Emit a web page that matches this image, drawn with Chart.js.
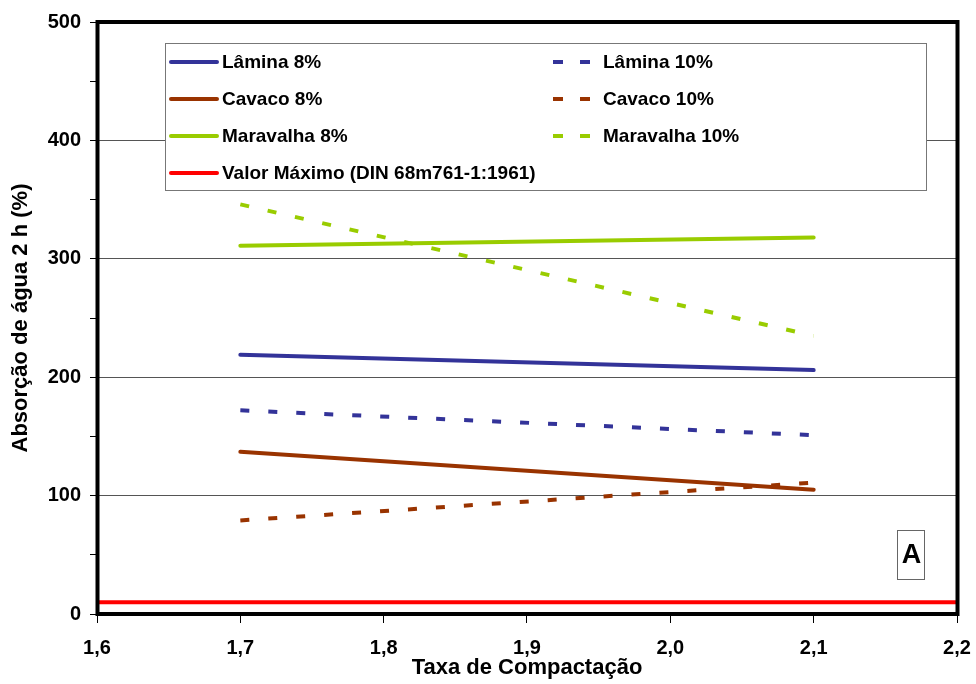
<!DOCTYPE html>
<html>
<head>
<meta charset="utf-8">
<script src="https://cdn.jsdelivr.net/npm/chart.js@4.4.1/dist/chart.umd.min.js"></script>
<style>
  html, body { margin: 0; padding: 0; background: #fff; }
  #wrap { width: 976px; height: 684px; }
</style>
</head>
<body>
<div id="wrap"><canvas id="grafico" width="976" height="684"></canvas></div>
<script>
// valores
const taxa = [1.7, 2.1];
const lamina8 = [219, 206];
const lamina10 = [172, 151];
const cavaco8 = [137, 105];
const cavaco10 = [79, 111];
const maravalha8 = [311, 318];
const maravalha10 = [346, 235];
const limiteX = [1.6, 2.2];
const valorMaximo = [10, 10];
const yTicks = [0, 100, 200, 300, 400, 500];

const FONTE = "'Liberation Sans', Arial, sans-serif";

function pts(xs, ys) {
  return xs.map((x, i) => ({ x: x, y: ys[i] }));
}

function serie(label, xs, ys, cor, tracejado) {
  return {
    label: label,
    data: pts(xs, ys),
    borderColor: cor,
    backgroundColor: cor,
    borderWidth: 4,
    borderDash: tracejado ? [9, 19] : [],
    borderCapStyle: tracejado ? 'butt' : 'round',
    pointRadius: 0,
    fill: false
  };
}

// legenda desenhada dentro da área do gráfico
const legendaPlugin = {
  id: 'legenda',
  afterDatasetsDraw(chart) {
    const ctx = chart.ctx;
    const ds = chart.data.datasets;
    ctx.save();
    ctx.fillStyle = '#fff';
    ctx.fillRect(165, 43, 761, 147);
    ctx.strokeStyle = '#777';
    ctx.lineWidth = 1;
    ctx.strokeRect(165.5, 43.5, 761, 147);
    ctx.font = 'bold 19px ' + FONTE;
    ctx.textBaseline = 'middle';
    ds.forEach((d, i) => {
      const col = i === ds.length - 1 ? 0 : i % 2;
      const row = Math.floor(i / 2);
      const y = 62 + row * 37;
      const x0 = col === 0 ? 171 : 553;
      ctx.strokeStyle = d.borderColor;
      ctx.lineWidth = 4;
      ctx.setLineDash(d.borderDash.length ? [10, 17] : []);
      ctx.lineCap = d.borderDash.length ? 'butt' : 'round';
      ctx.beginPath();
      ctx.moveTo(x0, y);
      ctx.lineTo(d.borderDash.length ? x0 + 40 : x0 + 46, y);
      ctx.stroke();
      ctx.setLineDash([]);
      ctx.fillStyle = '#000';
      ctx.fillText(d.label, col === 0 ? 222 : 603, y + 1);
    });
    // caixa "A"
    ctx.fillStyle = '#fff';
    ctx.fillRect(897, 530, 28, 50);
    ctx.strokeStyle = '#666';
    ctx.lineWidth = 1;
    ctx.strokeRect(897.5, 530.5, 27, 49);
    ctx.fillStyle = '#000';
    ctx.font = 'bold 27px ' + FONTE;
    ctx.textAlign = 'center';
    ctx.fillText('A', 911.5, 556);
    ctx.restore();
  },
  afterDraw(chart) {
    const a = chart.chartArea;
    const ctx = chart.ctx;
    ctx.save();
    ctx.strokeStyle = '#000';
    ctx.lineWidth = 4;
    ctx.strokeRect(a.left + 0.5, a.top, a.right - a.left, a.bottom - a.top);
    ctx.restore();
  }
};

new Chart(document.getElementById('grafico'), {
  type: 'line',
  data: {
    datasets: [
      serie('Lâmina 8%', taxa, lamina8, '#333399', false),
      serie('Lâmina 10%', taxa, lamina10, '#333399', true),
      serie('Cavaco 8%', taxa, cavaco8, '#993300', false),
      serie('Cavaco 10%', taxa, cavaco10, '#993300', true),
      serie('Maravalha 8%', taxa, maravalha8, '#99CC00', false),
      serie('Maravalha 10%', taxa, maravalha10, '#99CC00', true),
      serie('Valor Máximo (DIN 68m761-1:1961)', limiteX, valorMaximo, '#FF0000', false)
    ]
  },
  options: {
    responsive: false,
    animation: false,
    layout: { padding: { top: 22, right: 19, left: 0, bottom: 0 } },
    plugins: {
      legend: { display: false },
      tooltip: { enabled: false }
    },
    scales: {
      x: {
        type: 'linear',
        min: 1.6,
        max: 2.2,
        border: { display: false },
        grid: { color: 'transparent', tickColor: '#000', tickLength: 9, lineWidth: 1 },
        ticks: {
          stepSize: 0.1,
          color: '#000',
          padding: 13,
          font: { family: FONTE, size: 20, weight: 'bold' },
          callback: v => v.toFixed(1).replace('.', ',')
        },
        title: {
          display: true,
          text: 'Taxa de Compactação',
          color: '#000',
          padding: { top: 0, bottom: 3 },
          font: { family: FONTE, size: 22, weight: 'bold' }
        },
        afterFit: s => {
          s.height = 70;
          s.paddingLeft = 0;
          s.paddingRight = 0;
        }
      },
      y: {
        min: 0,
        max: 500,
        border: { display: false },
        grid: {
          color: c => (c.tick.value % 100 === 0 && c.tick.value > 0 && c.tick.value < 500) ? '#555' : 'transparent',
          tickColor: '#000',
          tickLength: 7,
          lineWidth: 1
        },
        ticks: {
          stepSize: 50,
          color: '#000',
          padding: 9,
          font: { family: FONTE, size: 20, weight: 'bold' },
          callback: v => yTicks.includes(v) ? String(v) : ''
        },
        title: {
          display: true,
          text: 'Absorção de água 2 h (%)',
          color: '#000',
          padding: { top: 8, bottom: 0 },
          font: { family: FONTE, size: 22, weight: 'bold' }
        },
        afterFit: s => {
          s.width = 97;
          s.paddingTop = 0;
          s.paddingBottom = 0;
        }
      }
    }
  },
  plugins: [legendaPlugin]
});
</script>
</body>
</html>
